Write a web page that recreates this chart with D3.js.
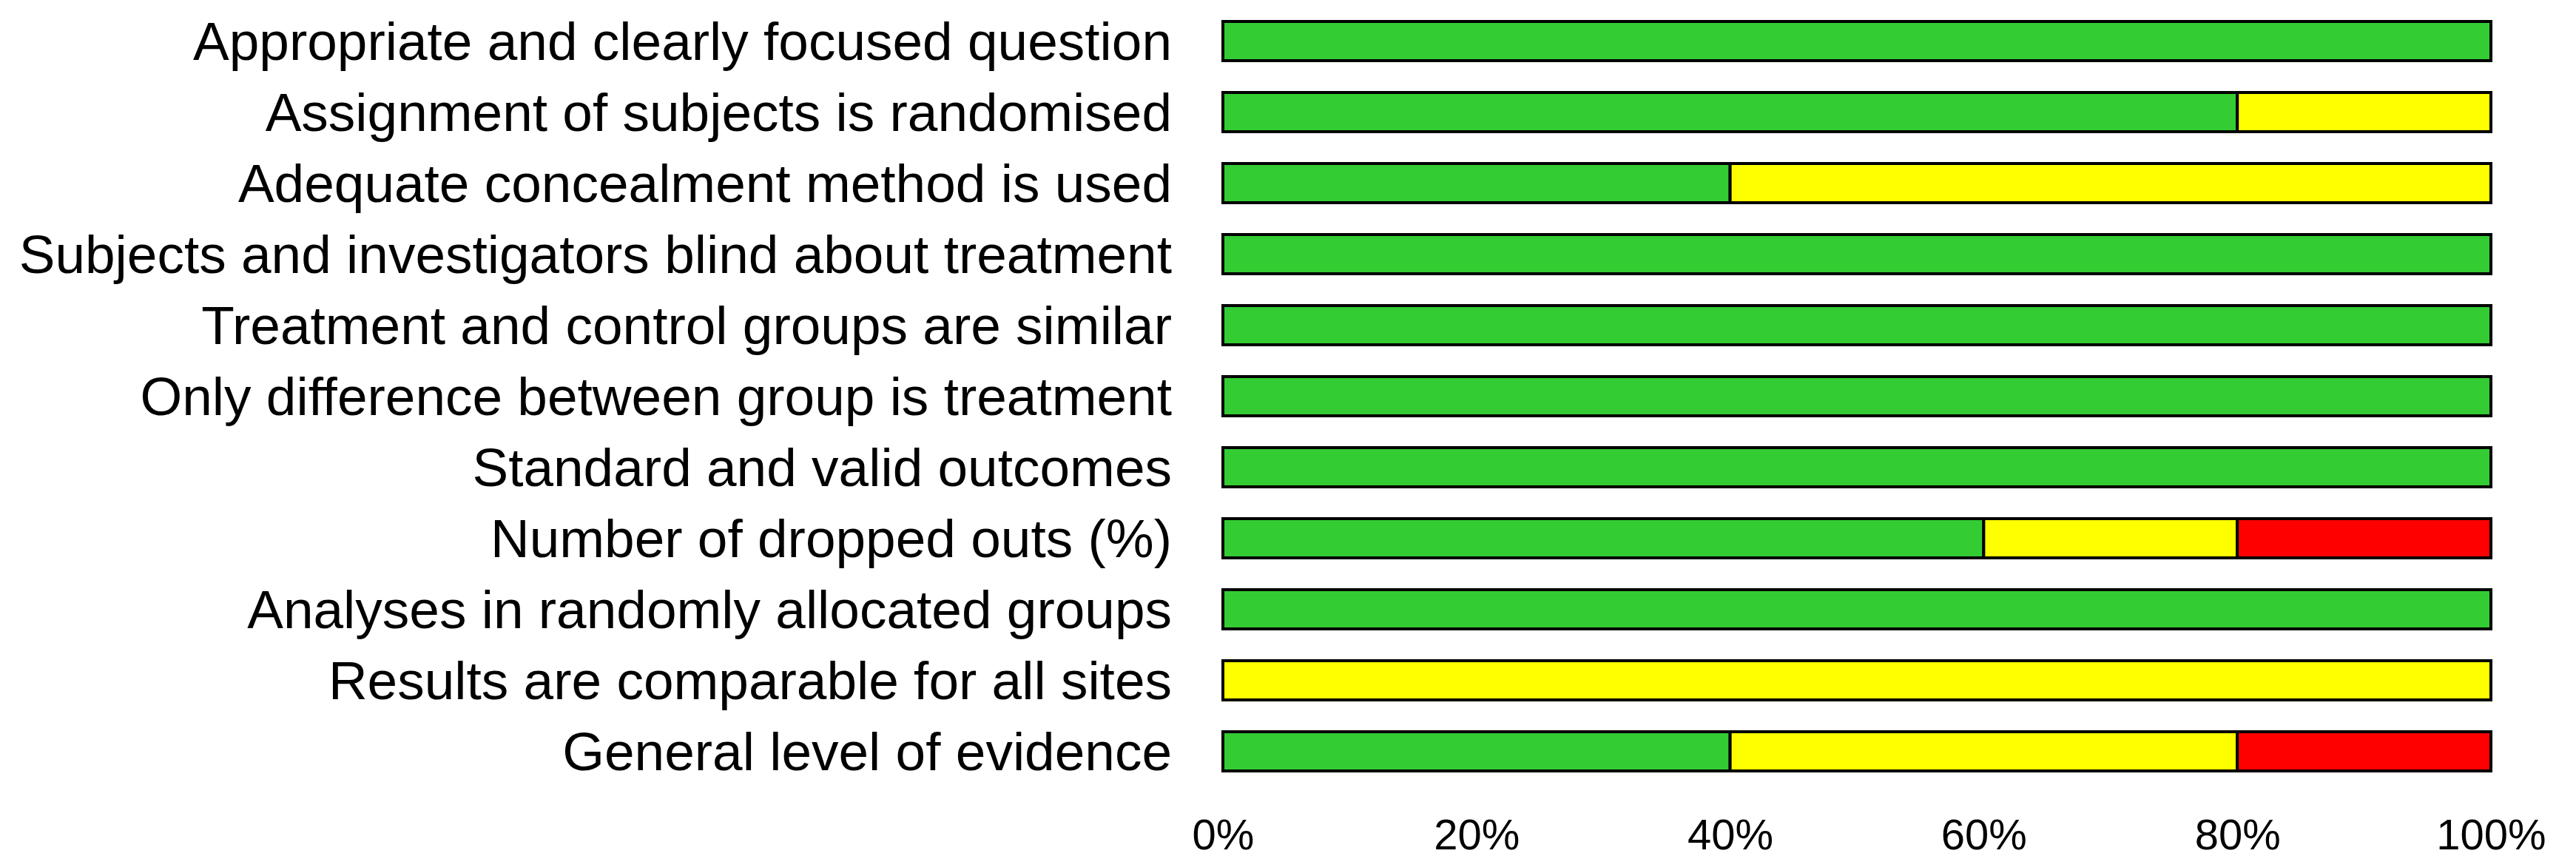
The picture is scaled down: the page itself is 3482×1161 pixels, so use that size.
<!DOCTYPE html>
<html>
<head>
<meta charset="utf-8">
<script src="https://cdn.jsdelivr.net/npm/d3@7"></script>
<style>
  html, body { margin: 0; padding: 0; background: #fff; }
  svg { display: block; }
</style>
</head>
<body>
<svg id="chart" width="3482" height="1161"></svg>
<script>
const categories = [
  "Appropriate and clearly focused question",
  "Assignment of subjects is randomised",
  "Adequate concealment method is used",
  "Subjects and investigators blind about treatment",
  "Treatment and control groups are similar",
  "Only difference between group is treatment",
  "Standard and valid outcomes",
  "Number of dropped outs (%)",
  "Analyses in randomly allocated groups",
  "Results are comparable for all sites",
  "General level of evidence"
];
const lowRisk     = [100, 80, 40, 100, 100, 100, 100, 60, 100, 0, 40];
const unclearRisk = [0,   20, 60, 0,   0,   0,   0,   20, 0, 100, 40];
const highRisk    = [0,   0,  0,  0,   0,   0,   0,   20, 0,   0, 20];
const tickValues  = [0, 20, 40, 60, 80, 100];

const keys = ["low", "unclear", "high"];
const colors = { low: "#33cc33", unclear: "#ffff00", high: "#ff0000" };

const rows = categories.map((c, i) => ({
  cat: c, low: lowRisk[i], unclear: unclearRisk[i], high: highRisk[i]
}));

const svg = d3.select("#chart");
const font = "'Liberation Sans', Arial, Helvetica, sans-serif";

const x = d3.scaleLinear().domain([0, 100]).range([1653, 3367]);
const y = d3.scaleBand().domain(categories).range([29, 1042])
  .paddingInner(43 / 96).paddingOuter(0);

const stacked = d3.stack().keys(keys)(rows);

svg.append("g").selectAll("g")
  .data(stacked).join("g")
  .attr("fill", d => colors[d.key])
  .selectAll("rect")
  .data(d => d.filter(s => s[1] - s[0] > 0))
  .join("rect")
  .attr("x", d => x(d[0]))
  .attr("width", d => x(d[1]) - x(d[0]))
  .attr("y", d => y(d.data.cat))
  .attr("height", y.bandwidth())
  .attr("stroke", "#000")
  .attr("stroke-width", 4);

// category labels
svg.append("g").selectAll("text")
  .data(categories).join("text")
  .attr("x", 1584)
  .attr("y", d => y(d) + y.bandwidth() / 2 + 25)
  .attr("text-anchor", "end")
  .attr("font-family", font)
  .attr("font-size", 73)
  .attr("fill", "#000")
  .text(d => d);

// x axis (labels only)
const xAxis = d3.axisBottom(x)
  .tickValues(tickValues)
  .tickFormat(d => d + "%")
  .tickSize(0)
  .tickPadding(0);

const ax = svg.append("g")
  .attr("transform", "translate(0,1148)")
  .call(xAxis);
ax.select(".domain").remove();
ax.selectAll("text")
  .attr("font-family", font)
  .attr("font-size", 58)
  .attr("fill", "#000")
  .attr("dy", 0)
  .attr("y", 0);
</script>
</body>
</html>
